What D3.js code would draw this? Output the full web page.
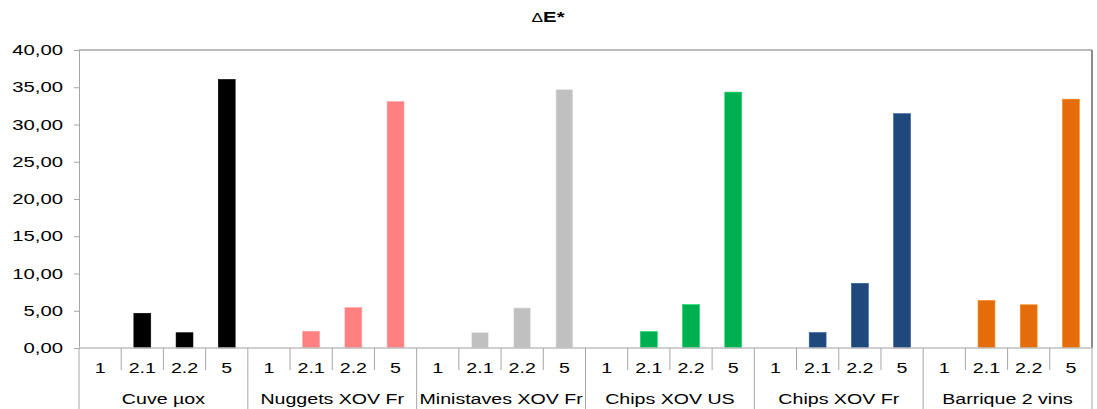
<!DOCTYPE html>
<html><head><meta charset="utf-8">
<script src="https://cdn.jsdelivr.net/npm/d3@7"></script>
<style>
html,body{margin:0;padding:0;background:#fff;}
svg{display:block;font-family:"Liberation Sans",Arial,sans-serif;}
</style></head>
<body>
<svg id="c" width="1097" height="409"></svg>
<script>
const groups = ["Cuve µox","Nuggets XOV Fr","Ministaves XOV Fr","Chips XOV US","Chips XOV Fr","Barrique 2 vins"];
const subs = ["1","2.1","2.2","5"];
const cuve = [0, 4.66, 2.05, 36.05];
const nuggets = [0, 2.25, 5.42, 33.07];
const ministaves = [0, 2.1, 5.38, 34.7];
const chipsUS = [0, 2.2, 5.82, 34.35];
const chipsFr = [0, 2.07, 8.68, 31.45];
const barrique = [0, 6.38, 5.8, 33.4];
const colors = ["#000000","#FF8080","#C0C0C0","#00B050","#1F497D","#E46C0A"];
const yTicks = [0,5,10,15,20,25,30,35,40];
const title = "E*";

const series = [cuve,nuggets,ministaves,chipsUS,chipsFr,barrique];
const flat = [];
groups.forEach((g,gi)=>subs.forEach((s,si)=>flat.push({key:g+"|"+s,g,gi,s,v:series[gi][si]})));

const svg = d3.select("#c");
const L=79, R=1092, T=50, B=348;
const SX = 1.4;
const x = d3.scaleBand().domain(flat.map(d=>d.key)).range([L,R]).paddingInner(0.6).paddingOuter(0.3);
const y = d3.scaleLinear().domain([0,40]).range([B,T]);
const step = x.step();

function stext(parent, px, py, str, size, anchor, sx){
  return parent.append("text")
    .attr("transform",`translate(${px},${py}) scale(${sx||SX},1)`)
    .attr("text-anchor",anchor||"middle").attr("font-size",size).attr("fill","#000").text(str);
}

// title
const tt = svg.append("text").attr("transform","translate(548,22) scale(1.45,1)").attr("text-anchor","middle")
  .attr("font-size",14).attr("fill","#000");
tt.append("tspan").attr("font-size",12).text("Δ");
tt.append("tspan").attr("font-weight","bold").text(title);

// plot frame (top & right)
svg.append("line").attr("x1",L).attr("x2",R).attr("y1",T).attr("y2",T).attr("stroke","#a6a6a6").attr("stroke-width",1.5);
svg.append("line").attr("x1",R).attr("x2",R).attr("y1",T).attr("y2",B).attr("stroke","#8c8c8c").attr("stroke-width",2);

// y axis
const ya = svg.append("g").attr("transform",`translate(${L},0)`)
  .call(d3.axisLeft(y).tickValues(yTicks).tickSize(5).tickFormat(""));
ya.select(".domain").attr("stroke","#a6a6a6");
ya.selectAll(".tick line").attr("stroke","#a6a6a6");
yTicks.forEach(t=>{
  stext(svg, 63, y(t)+5, d3.format(".2f")(t).replace(".",","), 14, "end", 1.45);
});

// bars
svg.append("g").selectAll("rect").data(flat.filter(d=>d.v>0)).join("rect")
  .attr("x",d=>x(d.key)).attr("width",x.bandwidth())
  .attr("y",d=>y(d.v)).attr("height",d=>y(0)-y(d.v))
  .attr("fill",d=>colors[d.gi])
  .attr("stroke",d=>d3.color(colors[d.gi]).brighter(0.6)).attr("stroke-width",0.6);

// x axis line
svg.append("line").attr("x1",L).attr("x2",R).attr("y1",B).attr("y2",B).attr("stroke","#bfbfbf").attr("stroke-width",1.5);

// category separators and labels
const xa = svg.append("g");
flat.forEach((d,i)=>{
  const left = x(d.key) - (step - x.bandwidth())/2;
  const cx = x(d.key)+x.bandwidth()/2;
  const isGroupStart = i%4===0;
  xa.append("line").attr("x1",left).attr("x2",left).attr("y1",B).attr("y2",isGroupStart?409:370)
    .attr("stroke","#a6a6a6").attr("stroke-width",1);
  stext(xa, cx, 373, d.s, 14, "middle");
});
xa.append("line").attr("x1",R).attr("x2",R).attr("y1",B).attr("y2",409).attr("stroke","#a6a6a6");
groups.forEach((g,gi)=>{
  const a = x(g+"|1") - (step - x.bandwidth())/2;
  stext(xa, a+2*step, 404, g, 14, "middle");
});
</script>
</body></html>
